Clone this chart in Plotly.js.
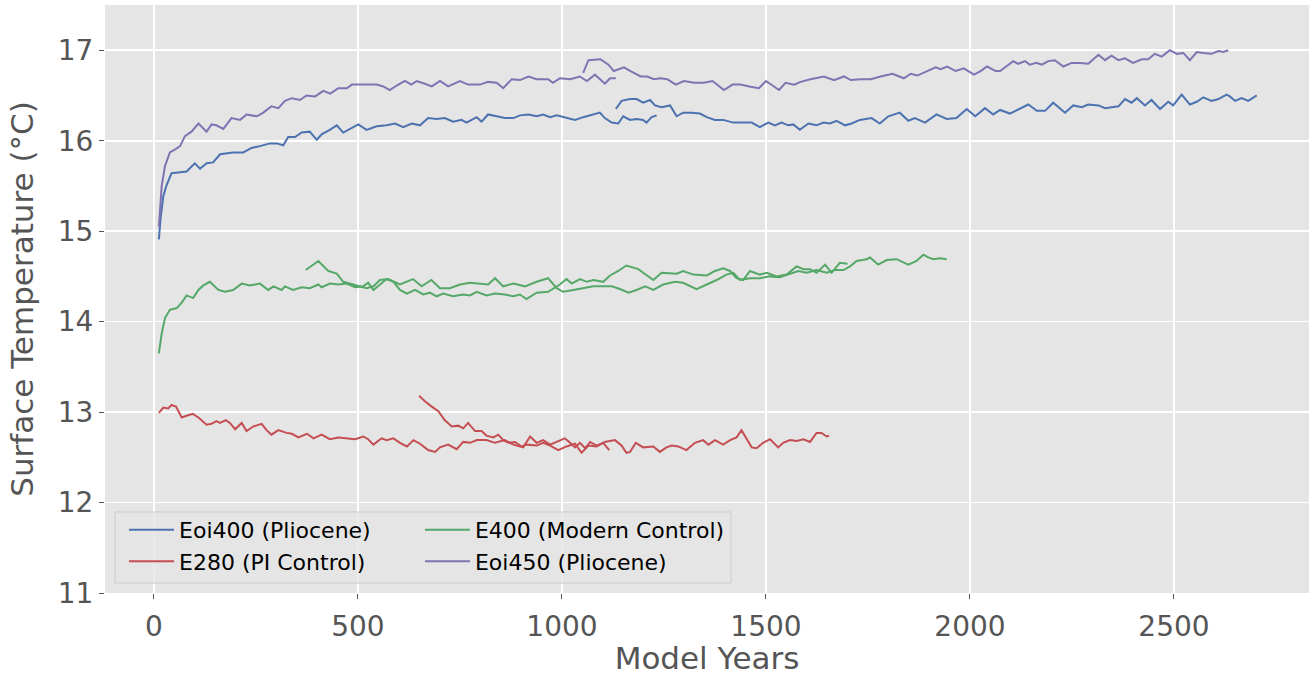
<!DOCTYPE html>
<html>
<head>
<meta charset="utf-8">
<script src="https://cdn.plot.ly/plotly-3.0.1.min.js"></script>
<style>html,body{margin:0;padding:0;background:#fff;}#chart{width:1309px;height:676px;}</style>
</head>
<body>
<div id="chart"></div>
<script>
// ---- Data ----
const seriesNames = ['Eoi400 (Pliocene)', 'E280 (PI Control)', 'E400 (Modern Control)', 'Eoi450 (Pliocene)'];
const seriesColors = ['#4C72B0', '#C44E52', '#55A868', '#8172B2'];
const xTickVals = [0, 500, 1000, 1500, 2000, 2500];
const yTickVals = [11, 12, 13, 14, 15, 16, 17];

// Eoi400 (Pliocene): first run and restarted run
const eoi400YearsA = [12,16,23,31,43,64,80,100,113,129,145,162,182,194,219,239,260,284,301,317,329,346,362,382,399,411,431,448,464,485,501,521,546,570,591,611,632,652,672,693,713,733,754,766,791,803,819,840,860,881,897,918,938,954,971,987,1012,1032,1052,1073,1093,1105,1122,1138,1150,1167,1183,1199,1207,1220,1232];
const eoi400TempA  = [14.91,15.13,15.39,15.51,15.64,15.65,15.66,15.75,15.69,15.75,15.76,15.85,15.86,15.87,15.87,15.92,15.94,15.97,15.97,15.95,16.04,16.04,16.09,16.10,16.01,16.07,16.12,16.17,16.09,16.14,16.18,16.12,16.16,16.17,16.19,16.15,16.19,16.17,16.25,16.24,16.25,16.21,16.23,16.20,16.26,16.21,16.29,16.27,16.25,16.25,16.28,16.29,16.27,16.29,16.26,16.28,16.25,16.23,16.26,16.29,16.31,16.25,16.20,16.19,16.27,16.23,16.24,16.23,16.20,16.26,16.28];
const eoi400YearsB = [1132,1146,1167,1183,1199,1216,1228,1244,1265,1281,1297,1318,1338,1355,1375,1395,1420,1444,1465,1485,1506,1522,1538,1555,1567,1583,1604,1624,1641,1657,1673,1694,1710,1730,1759,1779,1800,1828,1849,1865,1890,1918,1943,1967,1992,2013,2037,2057,2074,2098,2123,2143,2164,2184,2204,2233,2253,2274,2290,2315,2331,2351,2364,2380,2396,2409,2429,2445,2466,2486,2498,2519,2539,2556,2572,2592,2609,2629,2637,2650,2666,2682,2703];
const eoi400TempB  = [16.35,16.44,16.46,16.46,16.42,16.45,16.39,16.37,16.39,16.27,16.31,16.31,16.30,16.26,16.23,16.23,16.20,16.20,16.20,16.15,16.20,16.17,16.20,16.17,16.18,16.12,16.19,16.17,16.20,16.19,16.22,16.17,16.19,16.23,16.25,16.19,16.27,16.31,16.22,16.25,16.20,16.29,16.24,16.25,16.35,16.27,16.36,16.29,16.34,16.30,16.36,16.40,16.33,16.33,16.42,16.31,16.39,16.37,16.40,16.39,16.36,16.37,16.38,16.46,16.42,16.47,16.39,16.45,16.35,16.43,16.39,16.51,16.40,16.43,16.48,16.44,16.46,16.51,16.49,16.44,16.47,16.44,16.50];

// E280 (PI Control)
const e280YearsA = [12,23,35,43,54,68,80,95,109,129,141,153,162,176,186,199,215,227,243,264,276,288,305,325,338,354,375,391,411,431,452,472,493,513,525,538,558,570,587,603,620,636,652,672,689,701,721,742,758,775,791,815,836,860,881,905,922,938,954,971,1007,1020,1032,1044,1057,1069,1085,1101,1116];
const e280TempA  = [12.99,13.05,13.04,13.08,13.06,12.94,12.96,12.98,12.94,12.86,12.87,12.90,12.88,12.91,12.88,12.81,12.88,12.79,12.84,12.87,12.80,12.75,12.80,12.77,12.76,12.72,12.76,12.71,12.75,12.70,12.72,12.71,12.70,12.73,12.70,12.64,12.71,12.69,12.71,12.66,12.62,12.69,12.65,12.58,12.56,12.61,12.64,12.59,12.67,12.66,12.69,12.69,12.66,12.69,12.64,12.61,12.73,12.66,12.69,12.64,12.71,12.66,12.61,12.66,12.60,12.67,12.63,12.66,12.58];
const e280YearsB = [650,664,681,697,713,730,746,758,770,787,803,815,832,844,856,869,885,901,913,938,954,971,991,1011,1032,1048,1065,1085,1105,1130,1146,1158,1167,1181,1199,1224,1240,1256,1269,1285,1305,1326,1346,1359,1375,1395,1412,1428,1440,1452,1465,1477,1493,1510,1530,1542,1559,1575,1592,1608,1624,1636,1649,1655];
const e280TempB  = [13.18,13.12,13.06,13.01,12.91,12.84,12.85,12.82,12.88,12.79,12.79,12.74,12.72,12.75,12.69,12.66,12.67,12.62,12.64,12.63,12.66,12.63,12.58,12.62,12.65,12.55,12.63,12.62,12.67,12.69,12.63,12.55,12.56,12.66,12.61,12.62,12.56,12.61,12.63,12.62,12.58,12.66,12.69,12.64,12.69,12.64,12.69,12.72,12.80,12.71,12.61,12.60,12.66,12.70,12.61,12.66,12.69,12.68,12.70,12.67,12.77,12.77,12.73,12.74];

// E400 (Modern Control)
const e400YearsA = [12,19,27,39,56,68,80,96,109,121,137,158,174,194,215,235,260,280,293,313,321,341,362,382,403,411,431,452,472,493,513,525,538,554,570,587,603,620,640,660,676,693,709,733,758,775,791,815,836,860,881,897,913,938,966,995,1011,1024,1044,1061,1077,1101,1118,1138,1158,1187,1207,1224,1244,1281,1297,1322,1355,1375,1395,1412,1428,1444,1461,1485,1502,1526,1551,1575,1592,1608,1624,1645,1661,1681,1700];
const e400TempA  = [13.65,13.87,14.04,14.13,14.15,14.21,14.29,14.26,14.35,14.40,14.44,14.35,14.33,14.35,14.42,14.40,14.42,14.35,14.39,14.35,14.39,14.35,14.38,14.37,14.41,14.38,14.42,14.41,14.42,14.38,14.39,14.43,14.35,14.41,14.47,14.44,14.35,14.31,14.35,14.30,14.32,14.28,14.31,14.28,14.30,14.29,14.33,14.29,14.31,14.30,14.28,14.30,14.25,14.32,14.33,14.41,14.47,14.42,14.47,14.44,14.46,14.44,14.51,14.56,14.62,14.58,14.51,14.46,14.54,14.53,14.56,14.52,14.51,14.56,14.59,14.56,14.48,14.46,14.56,14.52,14.54,14.50,14.52,14.61,14.58,14.58,14.54,14.63,14.54,14.65,14.64];
const e400YearsB = [372,403,427,448,464,480,500,521,538,554,574,590,603,635,656,680,701,725,750,775,799,819,836,856,881,909,938,966,987,1003,1028,1052,1077,1101,1122,1142,1163,1183,1204,1224,1248,1277,1297,1330,1355,1379,1403,1420,1436,1461,1485,1510,1534,1559,1579,1600,1624,1649,1669,1690,1706,1722,1747,1755,1775,1796,1820,1849,1869,1886,1898,1910,1926,1943];
const e400TempB  = [14.57,14.67,14.56,14.53,14.44,14.42,14.39,14.37,14.39,14.46,14.47,14.44,14.41,14.47,14.39,14.46,14.37,14.37,14.41,14.43,14.42,14.41,14.48,14.39,14.42,14.39,14.44,14.48,14.37,14.33,14.35,14.37,14.39,14.39,14.39,14.36,14.32,14.35,14.39,14.35,14.41,14.44,14.43,14.36,14.41,14.46,14.52,14.54,14.46,14.48,14.48,14.50,14.49,14.53,14.56,14.54,14.57,14.54,14.57,14.57,14.61,14.67,14.69,14.71,14.63,14.68,14.69,14.63,14.67,14.74,14.71,14.69,14.70,14.69];

// Eoi450 (Pliocene)
const eoi450YearsA = [12,19,27,39,51,64,76,92,109,129,141,153,170,190,211,227,252,268,288,305,321,338,358,374,395,415,432,452,473,485,513,546,562,578,595,615,631,644,664,681,701,721,750,770,799,819,840,856,877,897,918,938,966,978,995,1020,1044,1061,1081,1093,1105,1118,1132];
const eoi450TempA  = [15.05,15.50,15.72,15.87,15.90,15.94,16.05,16.10,16.19,16.10,16.18,16.17,16.13,16.25,16.23,16.29,16.27,16.31,16.38,16.36,16.44,16.47,16.45,16.50,16.49,16.55,16.52,16.58,16.58,16.62,16.62,16.62,16.60,16.56,16.61,16.66,16.62,16.66,16.63,16.60,16.66,16.60,16.66,16.62,16.62,16.65,16.64,16.58,16.68,16.67,16.71,16.68,16.68,16.64,16.69,16.68,16.71,16.66,16.73,16.68,16.63,16.69,16.69];
const eoi450YearsB = [1052,1065,1094,1114,1127,1152,1168,1193,1209,1225,1242,1258,1279,1299,1324,1348,1369,1381,1397,1418,1438,1459,1483,1500,1516,1532,1548,1569,1585,1609,1642,1667,1691,1708,1732,1757,1781,1810,1838,1855,1871,1895,1916,1928,1944,1965,1985,2010,2026,2042,2063,2074,2090,2106,2118,2135,2147,2163,2176,2192,2208,2229,2249,2270,2290,2315,2331,2347,2364,2380,2400,2421,2437,2453,2470,2490,2507,2523,2539,2556,2572,2592,2609,2621,2633];
const eoi450TempB  = [16.75,16.89,16.90,16.84,16.77,16.81,16.77,16.71,16.71,16.68,16.69,16.68,16.62,16.66,16.64,16.64,16.66,16.62,16.56,16.62,16.62,16.60,16.58,16.66,16.61,16.56,16.64,16.62,16.65,16.68,16.71,16.67,16.71,16.67,16.68,16.68,16.71,16.74,16.69,16.74,16.72,16.77,16.81,16.79,16.82,16.77,16.80,16.73,16.77,16.82,16.77,16.77,16.82,16.88,16.85,16.88,16.84,16.86,16.84,16.88,16.89,16.82,16.86,16.86,16.85,16.95,16.89,16.94,16.89,16.91,16.86,16.90,16.90,16.96,16.93,17.00,16.96,16.97,16.89,16.98,16.97,16.96,16.99,16.98,17.00];

// ---- Traces ----
function seg(x, y, idx, legendId, show) {
  return {
    type: 'scatter', mode: 'lines', x: x, y: y,
    name: seriesNames[idx], legendgroup: seriesNames[idx], legend: legendId,
    showlegend: show, hoverinfo: 'skip',
    line: {color: seriesColors[idx], width: 2}
  };
}
const traces = [
  seg(eoi400YearsA, eoi400TempA, 0, 'legend', true),
  seg(eoi400YearsB, eoi400TempB, 0, 'legend', false),
  seg(e280YearsA, e280TempA, 1, 'legend', true),
  seg(e280YearsB, e280TempB, 1, 'legend', false),
  seg(e400YearsA, e400TempA, 2, 'legend2', true),
  seg(e400YearsB, e400TempB, 2, 'legend2', false),
  seg(eoi450YearsA, eoi450TempA, 3, 'legend2', true),
  seg(eoi450YearsB, eoi450TempB, 3, 'legend2', false)
];

const FONT = 'DejaVu Sans, sans-serif';
const legendCommon = {
  xanchor: 'left', yanchor: 'top', orientation: 'v',
  bgcolor: 'rgba(0,0,0,0)', borderwidth: 0,
  font: {family: FONT, size: 22, color: '#000000'},
  itemwidth: 45, tracegroupgap: 0, itemclick: false, itemdoubleclick: false
};

const layout = {
  width: 1309, height: 676,
  margin: {l: 105, r: 0, t: 5, b: 83, pad: 0},
  paper_bgcolor: '#FFFFFF', plot_bgcolor: '#E5E5E5',
  font: {family: FONT, color: '#555555'},
  showlegend: true,
  xaxis: {
    range: [-120, 2831], tickvals: xTickVals, ticktext: xTickVals.map(String),
    showgrid: true, gridcolor: '#FFFFFF', gridwidth: 1.7, zeroline: false, showline: false,
    ticks: 'outside', ticklen: 5, tickwidth: 1, tickcolor: '#555555', ticklabelstandoff: 3,
    tickfont: {family: FONT, size: 28, color: '#555555'},
    title: {text: 'Model Years', font: {family: FONT, size: 31, color: '#555555'}, standoff: 8}
  },
  yaxis: {
    range: [11, 17.5], tickvals: yTickVals, ticktext: yTickVals.map(String),
    showgrid: true, gridcolor: '#FFFFFF', gridwidth: 1.7, zeroline: false, showline: false,
    ticks: 'outside', ticklen: 5, tickwidth: 1, tickcolor: '#555555',
    tickfont: {family: FONT, size: 28, color: '#555555'},
    title: {text: 'Surface Temperature (°C)', font: {family: FONT, size: 31, color: '#555555'}, standoff: 14}
  },
  legend: Object.assign({}, legendCommon, {x: 0.0158, y: 0.1429}),
  legend2: Object.assign({}, legendCommon, {x: 0.2616, y: 0.1429}),
  shapes: [{
    type: 'rect', xref: 'paper', yref: 'paper', layer: 'above',
    x0: 0.0083, x1: 0.5199, y0: 0.0170, y1: 0.1378,
    fillcolor: 'rgba(229,229,229,0.8)', line: {color: '#CCCCCC', width: 1}
  }]
};

Plotly.newPlot('chart', traces, layout, {staticPlot: true, displayModeBar: false});
</script>
</body>
</html>
